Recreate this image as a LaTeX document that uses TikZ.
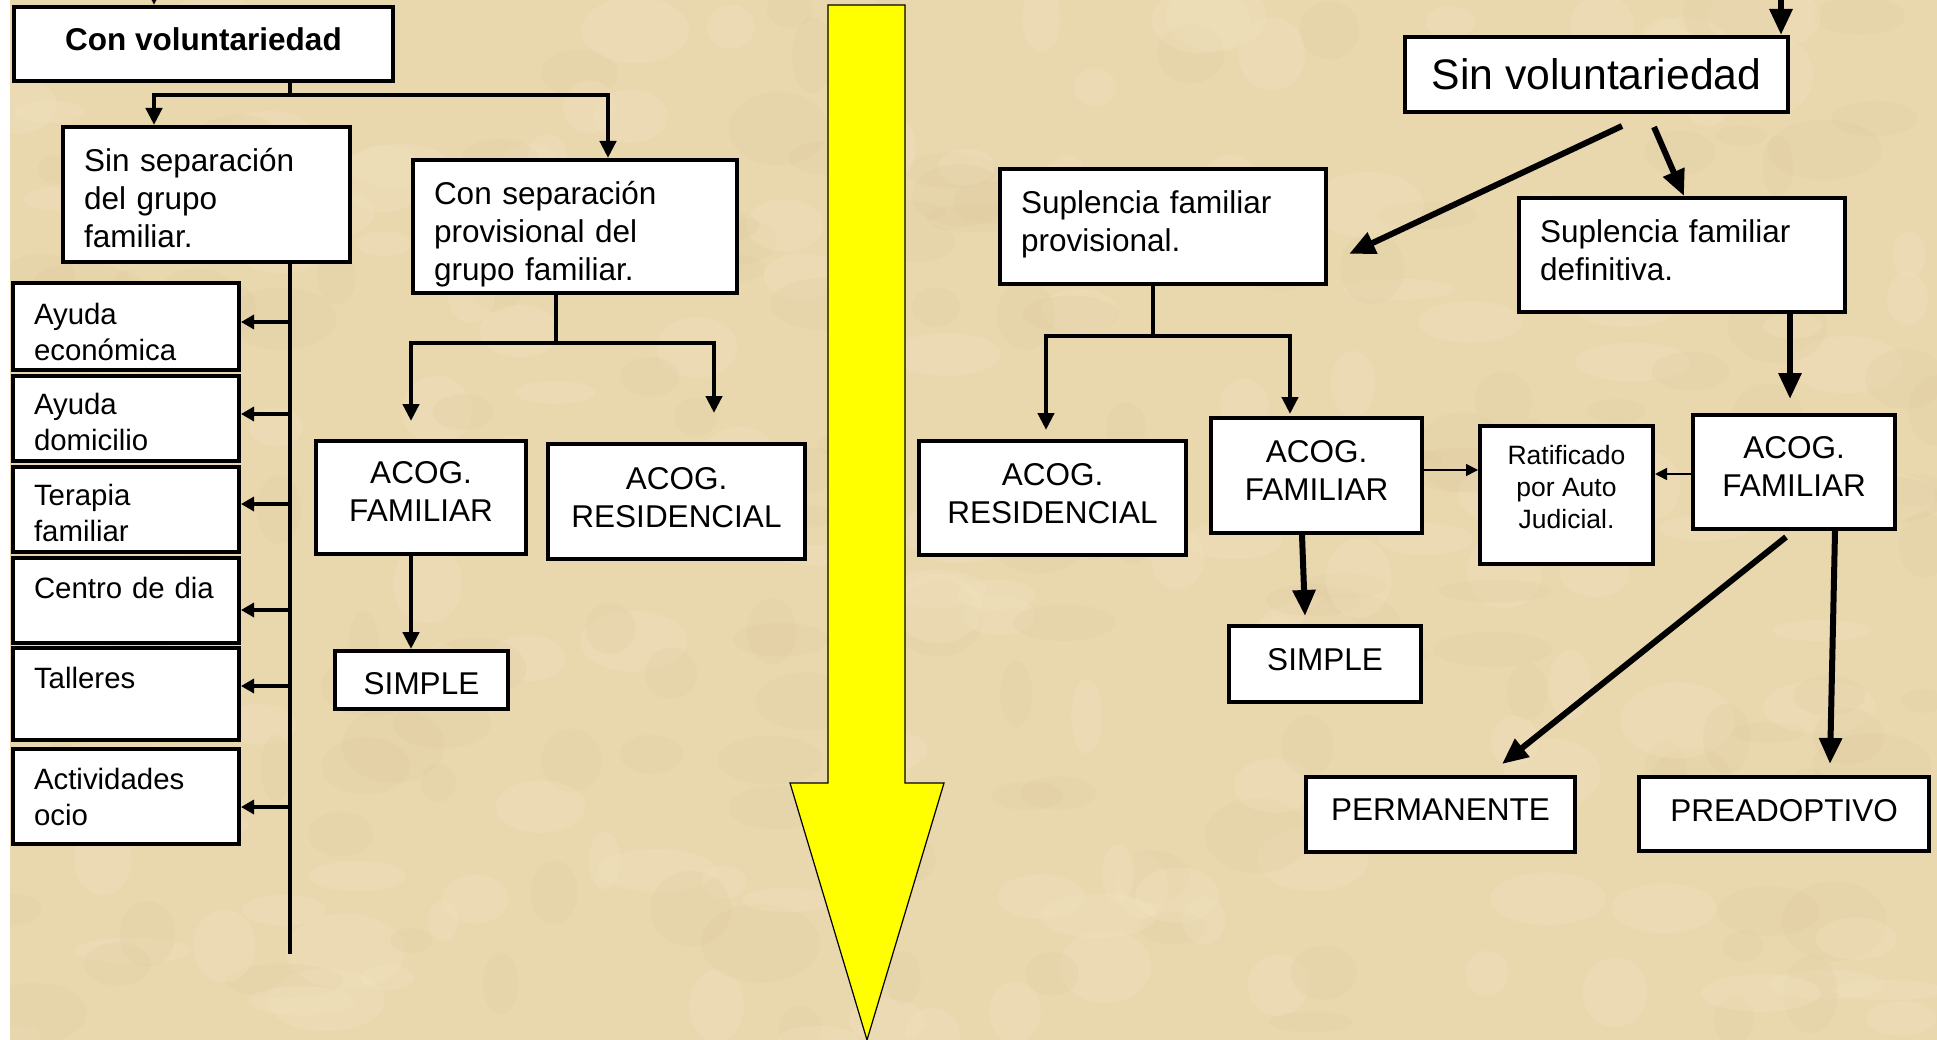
\documentclass[tikz,border=0pt]{standalone}
\usepackage{fontspec}
\setmainfont{Liberation Sans}
\usetikzlibrary{arrows.meta}
\definecolor{parch}{RGB}{233,215,174}
\definecolor{parchlt}{RGB}{244,230,196}
\definecolor{parchdk}{RGB}{218,196,152}
\definecolor{yel}{RGB}{255,255,0}
\begin{document}
\begin{tikzpicture}[x=1pt,y=-1pt,
 bx/.style={draw=black,line width=4pt,fill=white,inner xsep=21pt,inner ysep=0pt,line join=miter},
 bl/.style={bx,align=left},
 bc/.style={bx,align=center},
 ft/.style={font=\fontsize{31.5}{38}\selectfont},
 fc/.style={font=\fontsize{29.4}{36}\selectfont},
 ln/.style={line width=4.5pt},
 la/.style={ln,-{Triangle[length=17pt,width=16pt]}},
 lb/.style={ln,{Triangle[length=17pt,width=16pt]}-{Triangle[length=17pt,width=16pt]}},
 lsa/.style={ln,-{Triangle[length=13pt,width=14pt]}},
 tk/.style={line width=6pt,-{Triangle[length=26pt,width=22pt]}},
 tn/.style={line width=1.6pt,-{Triangle[length=12pt,width=12pt]}},
]
\useasboundingbox (0,0) rectangle (1937,1040);
\fill[white] (0,0) rectangle (10,1040);
\fill[parch] (10,0) rectangle (1937,1040);
% subtle parchment mottling
\begin{scope}
\clip (10,0) rectangle (1937,1040);
\pgfmathsetseed{11}
\foreach \i in {1,...,320} {
  \pgfmathsetmacro{\px}{10+rnd*1927}
  \pgfmathsetmacro{\py}{rnd*1040}
  \pgfmathsetmacro{\rx}{15+rnd*45}
  \pgfmathsetmacro{\ry}{10+rnd*30}
  \pgfmathsetmacro{\sel}{rnd}
  \ifdim\sel pt<0.5pt
    \fill[parchlt,opacity=0.25] (\px,\py) ellipse [x radius=\rx,y radius=\ry];
  \else
    \fill[parchdk,opacity=0.15] (\px,\py) ellipse [x radius=\rx,y radius=\ry];
  \fi
}
\end{scope}

% yellow arrow
\draw[fill=yel,line width=1.2pt,line join=miter] (828,5) -- (905,5) -- (905,783) -- (944,783) -- (867,1040) -- (790,783) -- (828,783) -- cycle;

% ---------- left part ----------
\node[bc,minimum width=379pt,minimum height=74pt,text depth=10pt,font=\fontsize{31.5}{38}\selectfont\bfseries] (cv) at (203.5,44) {Con voluntariedad};
\node[bl,ft,minimum width=287pt,minimum height=135pt,text width=245pt,text depth=69pt] (ssep) at (206.5,194.5) {Sin separación\\del grupo\\familiar.};
\node[bl,ft,minimum width=324pt,minimum height=133pt,text width=282pt,text depth=66.6pt] (csep) at (575,226.5) {Con separación\\provisional del\\grupo familiar.};

\node[bl,fc,minimum width=226pt,minimum height=87pt,text width=184pt,text depth=26pt] (ayec) at (126,326.5) {Ayuda\\económica};
\node[bl,fc,minimum width=226pt,minimum height=85pt,text width=184pt,text depth=30pt] (aydom) at (126,418.5) {Ayuda\\domicilio};
\node[bl,fc,minimum width=226pt,minimum height=85pt,text width=184pt,text depth=30pt] (terap) at (126,509.5) {Terapia\\familiar};
\node[bl,fc,minimum width=226pt,minimum height=85pt,text width=184pt] (centro) at (126,600.5) {\raisebox{13pt}[\height][\depth]{Centro de dia}};
\node[bl,fc,minimum width=226pt,minimum height=92pt,text width=184pt] (tall) at (126,694) {\raisebox{16pt}[\height][\depth]{Talleres}};
\node[bl,fc,minimum width=226pt,minimum height=95pt,text width=184pt] (activ) at (126,796.5) {Actividades\\ocio};

\node[bc,ft,minimum width=210pt,minimum height=113pt,text depth=12pt] (afam1) at (421,497.5) {ACOG.\\FAMILIAR};
\node[bc,ft,minimum width=257pt,minimum height=115pt,text depth=8pt] (ares1) at (676.5,501.5) {ACOG.\\RESIDENCIAL};
\node[bc,ft,minimum width=173pt,minimum height=58pt,text height=30pt] (simp1) at (421.5,680) {SIMPLE};

% connectors left
\coordinate (t1) at (154,-30);
\draw[la] (t1) -- (t1 |- cv.north);
\coordinate (j1) at (290,95);
\coordinate (j1l) at (154,95);
\coordinate (j1r) at (608,95);
\draw[ln] (cv.south -| j1) -- (j1);
\draw[lb] (j1l |- ssep.north) -- (j1l) -- (j1r) -- (j1r |- csep.north);
\coordinate (vb) at (290,954);
\draw[ln] (ssep.south -| vb) -- (vb);
\path ([yshift=4.5pt]ayec.east) coordinate (c1);
\path ([yshift=4.5pt]aydom.east) coordinate (c2);
\path ([yshift=5.5pt]terap.east) coordinate (c3);
\path ([yshift=-9.5pt]centro.east) coordinate (c4);
\path ([yshift=8pt]tall.east) coordinate (c5);
\path ([yshift=-10.5pt]activ.east) coordinate (c6);
\foreach \c in {c1,c2,c3,c4,c5,c6} {\draw[lsa] (\c -| vb) -- (\c);}

\coordinate (j2) at (556,343);
\coordinate (j2l) at (411,343);
\coordinate (j2r) at (714,343);
\coordinate (e2l) at (411,421);
\coordinate (e2r) at (714,413);
\draw[ln] (csep.south -| j2) -- (j2);
\draw[lb] (e2l) -- (j2l) -- (j2r) -- (e2r);
\path ([xshift=-10pt]afam1.south) coordinate (s1);
\draw[la] (s1) -- (s1 |- simp1.north);

% ---------- right part ----------
\node[bc,minimum width=383pt,minimum height=75pt,font=\fontsize{42.7}{50}\selectfont] (sv) at (1596.5,74.5) {Sin voluntariedad};
\node[bl,ft,minimum width=326pt,minimum height=115pt,text width=284pt,text depth=48.6pt] (sprov) at (1163,226.5) {Suplencia familiar\\provisional.};
\node[bl,ft,minimum width=326pt,minimum height=114pt,text width=284pt,text depth=48pt] (sdef) at (1682,255) {Suplencia familiar\\definitiva.};
\node[bc,ft,minimum width=267pt,minimum height=114pt,text depth=8pt] (ares2) at (1052.5,498) {ACOG.\\RESIDENCIAL};
\node[bc,ft,minimum width=211pt,minimum height=115pt,text depth=10pt] (afam2) at (1316.5,475.5) {ACOG.\\FAMILIAR};
\node[bc,minimum width=173pt,minimum height=138pt,text depth=17pt,font=\fontsize{26.5}{32}\selectfont] (ratif) at (1566.5,495) {Ratificado\\por Auto\\Judicial.};
\node[bc,ft,minimum width=202pt,minimum height=114pt,text depth=10pt] (afam3) at (1794,472) {ACOG.\\FAMILIAR};
\node[bc,ft,minimum width=192pt,minimum height=76pt,text depth=10pt] (simp2) at (1325,664) {SIMPLE};
\node[bc,ft,minimum width=269pt,minimum height=75pt,text depth=10pt] (perm) at (1440.5,814.5) {PERMANENTE};
\node[bc,ft,minimum width=290pt,minimum height=74pt,text depth=8pt] (preadop) at (1784,814) {PREADOPTIVO};

% connectors right
\coordinate (t2) at (1781,-30);
\draw[tk] (t2) -- (t2 |- sv.north);
\coordinate (d1s) at (1622,126);
\coordinate (d1e) at (1349,254);
\draw[tk] (d1s) -- (d1e);
\coordinate (d2s) at (1654,127);
\draw[tk] (d2s) -- ([xshift=2pt]sdef.north);
\path ([xshift=108pt]sdef.south) coordinate (d3s);
\coordinate (d3e) at (1790,399);
\draw[tk] (d3s) -- (d3e);

\coordinate (j3) at (1153,336);
\coordinate (j3l) at (1046,336);
\coordinate (j3r) at (1290,336);
\coordinate (e3l) at (1046,430);
\coordinate (e3r) at (1290,414);
\draw[ln] (sprov.south -| j3) -- (j3);
\draw[lb] (e3l) -- (j3l) -- (j3r) -- (e3r);

\path ([yshift=5.5pt]afam2.east) coordinate (r1);
\draw[tn] (r1) -- (r1 -| ratif.west);
\path ([yshift=-2pt]afam3.west) coordinate (r2);
\draw[tn] (r2) -- (r2 -| ratif.east);

\path ([xshift=-14.5pt]afam2.south) coordinate (s2);
\coordinate (s2e) at (1305,616);
\draw[tk] (s2) -- (s2e);
\coordinate (p1s) at (1786,537);
\coordinate (p1e) at (1502,764);
\draw[tk] (p1s) -- (p1e);
\path ([xshift=41pt]afam3.south) coordinate (p2s);
\coordinate (p2e) at (1830,764);
\draw[tk] (p2s) -- (p2e);
\end{tikzpicture}
\end{document}
